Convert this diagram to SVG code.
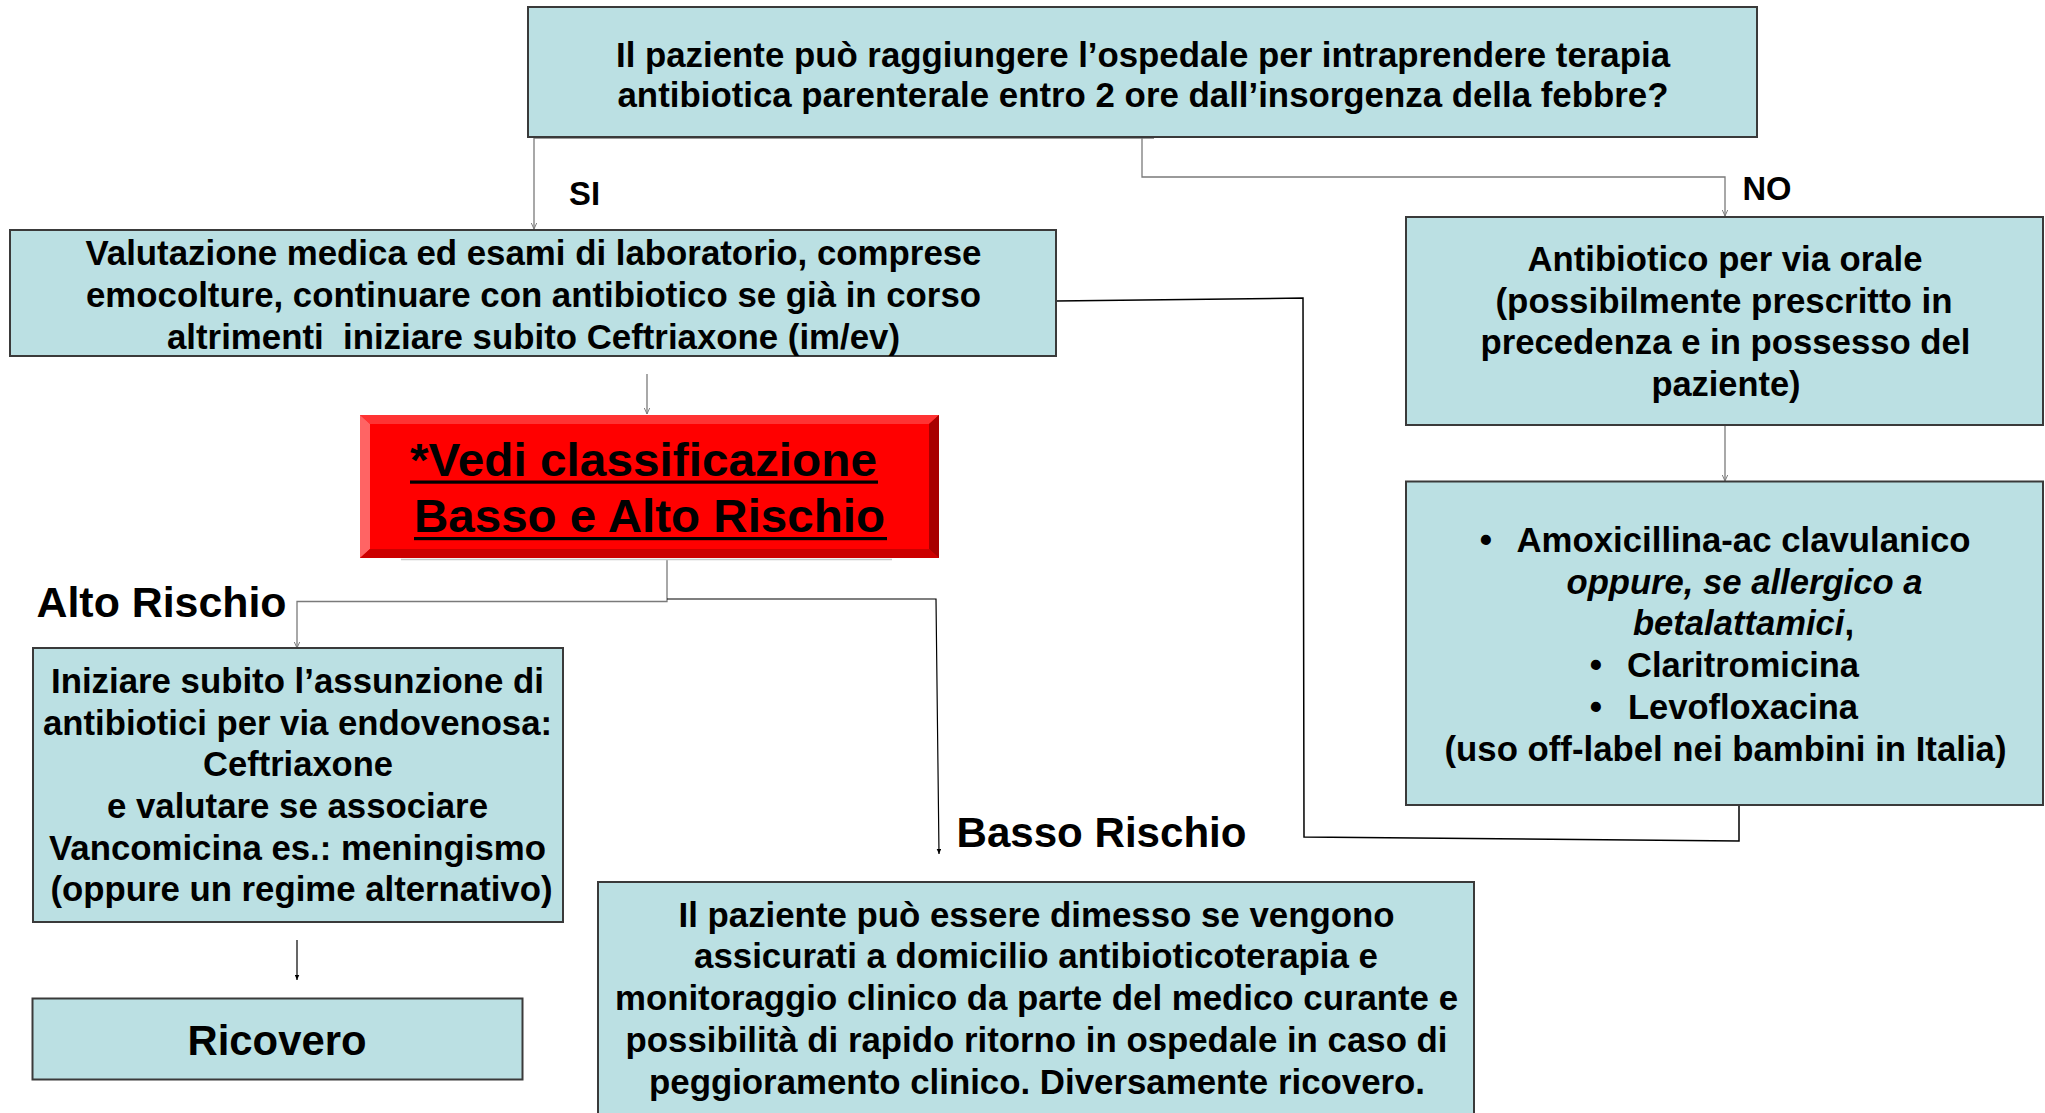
<svg xmlns="http://www.w3.org/2000/svg" width="2045" height="1113" viewBox="0 0 2045 1113">
<defs>
<style>
.box{fill:#BBE0E3;stroke:#3a3a3a;stroke-width:2}
.t{font-family:"Liberation Sans",Arial,Helvetica,sans-serif;font-weight:bold;font-size:35px;fill:#000}
.m{text-anchor:middle}
.lab{font-size:43px}
.yn{font-size:33px}
.big{font-size:47px}
.gc{fill:none;stroke:#7a7a7a;stroke-width:1.3}
.bc{fill:none;stroke:#000;stroke-width:1.5}
.it{font-style:italic}
</style>
<marker id="ao" viewBox="0 0 10 10" refX="10" refY="5" markerWidth="7" markerHeight="6" markerUnits="userSpaceOnUse" orient="auto">
<path d="M0,0.5 L10,5 L0,9.5" fill="none" stroke="#7a7a7a" stroke-width="1.6"/>
</marker>
<marker id="af" viewBox="0 0 10 10" refX="10" refY="5" markerWidth="7" markerHeight="5" markerUnits="userSpaceOnUse" orient="auto">
<path d="M0,0.5 L10,5 L0,9.5 Z" fill="#000"/>
</marker>
</defs>
<rect width="2045" height="1113" fill="#fff"/>

<g id="connectors">
<path class="gc" d="M1154,138 H534 V229" marker-end="url(#ao)"/>
<path class="gc" d="M1142,138 V177 H1725 V216" marker-end="url(#ao)"/>
<path class="gc" d="M647,374 V414" marker-end="url(#ao)"/>
<path class="gc" d="M1725,426 V481" marker-end="url(#ao)"/>
<path class="gc" d="M667,559 V601.5 H297 V648" marker-end="url(#ao)"/>
<path class="bc" style="stroke-width:1.2" d="M667,599 H936 L939,854" marker-end="url(#af)"/>
<path class="bc" d="M1056,301 L1303,298 L1304,837 L1739,841 V805"/>
<path class="bc" style="stroke-width:1.2" d="M297,940 V980" marker-end="url(#af)"/>
</g>

<g id="n-question">
<rect class="box" x="528" y="7" width="1229" height="130"/>
<text class="t m" x="1143" y="67" textLength="1054" lengthAdjust="spacingAndGlyphs">Il paziente può raggiungere l’ospedale per intraprendere terapia</text>
<text class="t m" x="1143" y="107" textLength="1051" lengthAdjust="spacingAndGlyphs">antibiotica parenterale entro 2 ore dall’insorgenza della febbre?</text>
</g>

<g id="l-si"><text class="t yn" x="569" y="204.5" textLength="31" lengthAdjust="spacingAndGlyphs">SI</text></g>
<g id="l-no"><text class="t yn" x="1742.5" y="199.5" textLength="49" lengthAdjust="spacingAndGlyphs">NO</text></g>

<g id="n-valutazione">
<rect class="box" x="10" y="230" width="1046" height="126"/>
<text class="t m" x="533.5" y="265" textLength="896" lengthAdjust="spacingAndGlyphs">Valutazione medica ed esami di laboratorio, comprese</text>
<text class="t m" x="533.5" y="307" textLength="895" lengthAdjust="spacingAndGlyphs">emocolture, continuare con antibiotico se già in corso</text>
<text class="t m" x="533.5" y="348.5" textLength="733" lengthAdjust="spacingAndGlyphs" style="white-space:pre">altrimenti  iniziare subito Ceftriaxone (im/ev)</text>
</g>

<g id="n-classificazione">
<line x1="401" y1="559.5" x2="892" y2="559.5" stroke="#c8c8c8" stroke-width="1.5"/>
<rect x="360" y="415" width="579" height="143" fill="#FF0000"/>
<polygon points="360,415 939,415 929,424 370,424" fill="#FF3333"/>
<polygon points="360,415 370,424 370,549 360,558" fill="#FF6464"/>
<polygon points="360,558 370,549 929,549 939,558" fill="#CC0000"/>
<polygon points="939,415 939,558 929,549 929,424" fill="#A80000"/>
<text class="t big" x="410" y="476" textLength="467" lengthAdjust="spacingAndGlyphs">*Vedi classificazione</text>
<rect x="410" y="480.5" width="468" height="3.2" fill="#000"/>
<text class="t big" x="414" y="531.5" textLength="471" lengthAdjust="spacingAndGlyphs">Basso e Alto Rischio</text>
<rect x="414" y="537" width="473" height="3.2" fill="#000"/>
</g>

<g id="l-alto"><text class="t lab" x="36.5" y="616.5" textLength="250" lengthAdjust="spacingAndGlyphs">Alto Rischio</text></g>
<g id="l-basso"><text class="t lab" x="956.5" y="846.5" textLength="290" lengthAdjust="spacingAndGlyphs">Basso Rischio</text></g>

<g id="n-alto">
<rect class="box" x="33" y="648" width="530" height="274"/>
<text class="t m" x="297.5" y="693" textLength="493" lengthAdjust="spacingAndGlyphs">Iniziare subito l’assunzione di</text>
<text class="t m" x="297.5" y="735" textLength="509" lengthAdjust="spacingAndGlyphs">antibiotici per via endovenosa:</text>
<text class="t m" x="298" y="776" textLength="190" lengthAdjust="spacingAndGlyphs">Ceftriaxone</text>
<text class="t m" x="297.5" y="818" textLength="381" lengthAdjust="spacingAndGlyphs">e valutare se associare</text>
<text class="t m" x="297.5" y="860" textLength="497" lengthAdjust="spacingAndGlyphs">Vancomicina es.: meningismo</text>
<text class="t m" x="301.5" y="901" textLength="502" lengthAdjust="spacingAndGlyphs">(oppure un regime alternativo)</text>
</g>

<g id="n-ricovero">
<rect class="box" x="32.5" y="998.5" width="490" height="81"/>
<text class="t lab m" x="277" y="1055" textLength="179" lengthAdjust="spacingAndGlyphs">Ricovero</text>
</g>

<g id="n-basso">
<rect class="box" x="598" y="882" width="876" height="260"/>
<text class="t m" x="1036.5" y="926.5" textLength="716" lengthAdjust="spacingAndGlyphs">Il paziente può essere dimesso se vengono</text>
<text class="t m" x="1036" y="968" textLength="684" lengthAdjust="spacingAndGlyphs">assicurati a domicilio antibioticoterapia e</text>
<text class="t m" x="1036.5" y="1010" textLength="843" lengthAdjust="spacingAndGlyphs">monitoraggio clinico da parte del medico curante e</text>
<text class="t m" x="1036.5" y="1052" textLength="822" lengthAdjust="spacingAndGlyphs">possibilità di rapido ritorno in ospedale in caso di</text>
<text class="t m" x="1037" y="1093.5" textLength="776" lengthAdjust="spacingAndGlyphs">peggioramento clinico. Diversamente ricovero.</text>
</g>

<g id="n-orale">
<rect class="box" x="1406" y="217" width="637" height="208"/>
<text class="t m" x="1725" y="271" textLength="395" lengthAdjust="spacingAndGlyphs">Antibiotico per via orale</text>
<text class="t m" x="1724" y="312.5" textLength="457" lengthAdjust="spacingAndGlyphs">(possibilmente prescritto in</text>
<text class="t m" x="1725.5" y="354" textLength="490" lengthAdjust="spacingAndGlyphs">precedenza e in possesso del</text>
<text class="t m" x="1726" y="395.5" textLength="149" lengthAdjust="spacingAndGlyphs">paziente)</text>
</g>

<g id="n-farmaci">
<rect class="box" x="1406" y="481.5" width="637" height="323.5"/>
<text class="t m" x="1486" y="552">•</text>
<text class="t" x="1516.5" y="552" textLength="454" lengthAdjust="spacingAndGlyphs">Amoxicillina-ac clavulanico</text>
<text class="t it" x="1566.5" y="593.5" textLength="356" lengthAdjust="spacingAndGlyphs">oppure, se allergico a</text>
<text class="t" x="1633" y="635" textLength="221" lengthAdjust="spacingAndGlyphs"><tspan class="it">betalattamici</tspan>,</text>
<text class="t m" x="1596" y="677">•</text>
<text class="t" x="1627" y="677" textLength="232" lengthAdjust="spacingAndGlyphs">Claritromicina</text>
<text class="t m" x="1596" y="719">•</text>
<text class="t" x="1628" y="719" textLength="230" lengthAdjust="spacingAndGlyphs">Levofloxacina</text>
<text class="t m" x="1725.5" y="761" textLength="562" lengthAdjust="spacingAndGlyphs">(uso off-label nei bambini in Italia)</text>
</g>
</svg>
